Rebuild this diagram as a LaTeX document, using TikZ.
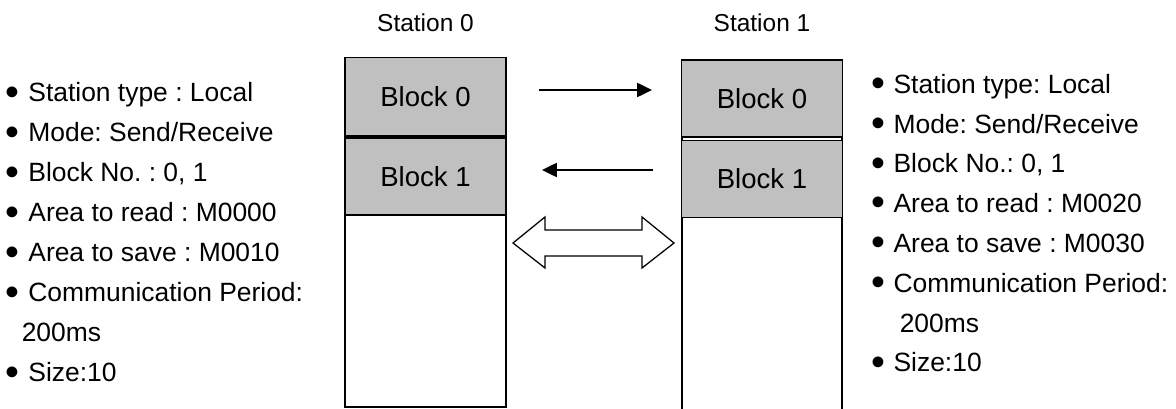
\documentclass[tikz,border=0pt]{standalone}
\usepackage{fontspec}
\setmainfont{Liberation Sans}
\usepackage{graphicx}
\usepackage{tikz}
\usetikzlibrary{arrows.meta}
\definecolor{blockgray}{RGB}{192,192,192}
\newcommand{\bul}{\makebox[0.56cm][l]{\raisebox{-0.12em}{\scalebox{1.5}{\textbullet}}}}
\frenchspacing

\begin{document}
\begin{tikzpicture}[>={Triangle[length=10.5pt,width=10pt]},line width=1.1pt,
  info/.style={anchor=base west,inner sep=0pt,font=\fontsize{18.8}{22}\selectfont},
  station/.style={inner sep=0pt,font=\fontsize{17.4}{20}\selectfont},
  blockbox/.style={draw,fill=blockgray,minimum width=4.025cm,minimum height=1.925cm,inner sep=0pt,font=\fontsize{19.6}{23}\selectfont}]
 \useasboundingbox (0,0) rectangle (29.4,-10.225);
 % ---- station 0
 \node[station] (st0) at (10.6375,-0.575) {Station 0};
 \draw[fill=white] (8.625,-1.4375) rectangle (12.65,-10.175);
 \node[blockbox,minimum height=1.9625cm] (blk00) at (10.6375,-2.419) {Block 0};
 \node[blockbox] (blk01) at (10.6375,-4.4125) {Block 1};
 % ---- station 1
 \node[station] (st1) at (19.05,-0.575) {Station 1};
 \draw (17.05,-10.4) |- (21.05,-1.5) -- (21.05,-10.4);
 \node[blockbox] (blk10) at (19.05,-2.4625) {Block 0};
 \node[blockbox] (blk11) at (19.05,-4.475) {Block 1};
 % ---- block transfers
 \coordinate (snd0) at (13.475,-2.25); \coordinate (snd1) at (16.3,-2.25);
 \coordinate (rcv1) at (16.325,-4.25); \coordinate (rcv0) at (13.55,-4.25);
 \draw[->] (snd0) -- (snd1);
 \draw[->] (rcv1) -- (rcv0);
 % ---- link between stations
 \draw[line width=0.9pt,fill=white] (12.825,-6.075) -- (13.625,-5.425) -- (13.625,-5.75) -- (16.05,-5.75) -- (16.05,-5.425) -- (16.85,-6.075)
   -- (16.05,-6.7) -- (16.05,-6.4) -- (13.625,-6.4) -- (13.625,-6.7) -- cycle;
 % ---- settings of station 0
 \node[info] (set01) at (0.13,-2.55) {\bul Station type : Local};
 \node[info] (set02) at (0.13,-3.55) {\bul Mode: Send/Receive};
 \node[info] (set03) at (0.13,-4.55) {\bul Block No. : 0, 1};
 \node[info] (set04) at (0.13,-5.55) {\bul Area to read : M0000};
 \node[info] (set05) at (0.13,-6.55) {\bul Area to save : M0010};
 \node[info] (set06) at (0.13,-7.55) {\bul Communication Period:};
 \node[info] (set07) at (0.525,-8.55) {200ms};
 \node[info] (set08) at (0.13,-9.55) {\bul Size:10};
 % ---- settings of station 1
 \node[info] (set11) at (21.76,-2.333) {\bul Station type: Local};
 \node[info] (set12) at (21.76,-3.328) {\bul Mode: Send/Receive};
 \node[info] (set13) at (21.76,-4.323) {\bul Block No.: 0, 1};
 \node[info] (set14) at (21.76,-5.318) {\bul Area to read : M0020};
 \node[info] (set15) at (21.76,-6.313) {\bul Area to save : M0030};
 \node[info] (set16) at (21.76,-7.308) {\bul Communication Period:};
 \node[info] (set17) at (22.475,-8.303) {200ms};
 \node[info] (set18) at (21.76,-9.298) {\bul Size:10};
\end{tikzpicture}
\end{document}
